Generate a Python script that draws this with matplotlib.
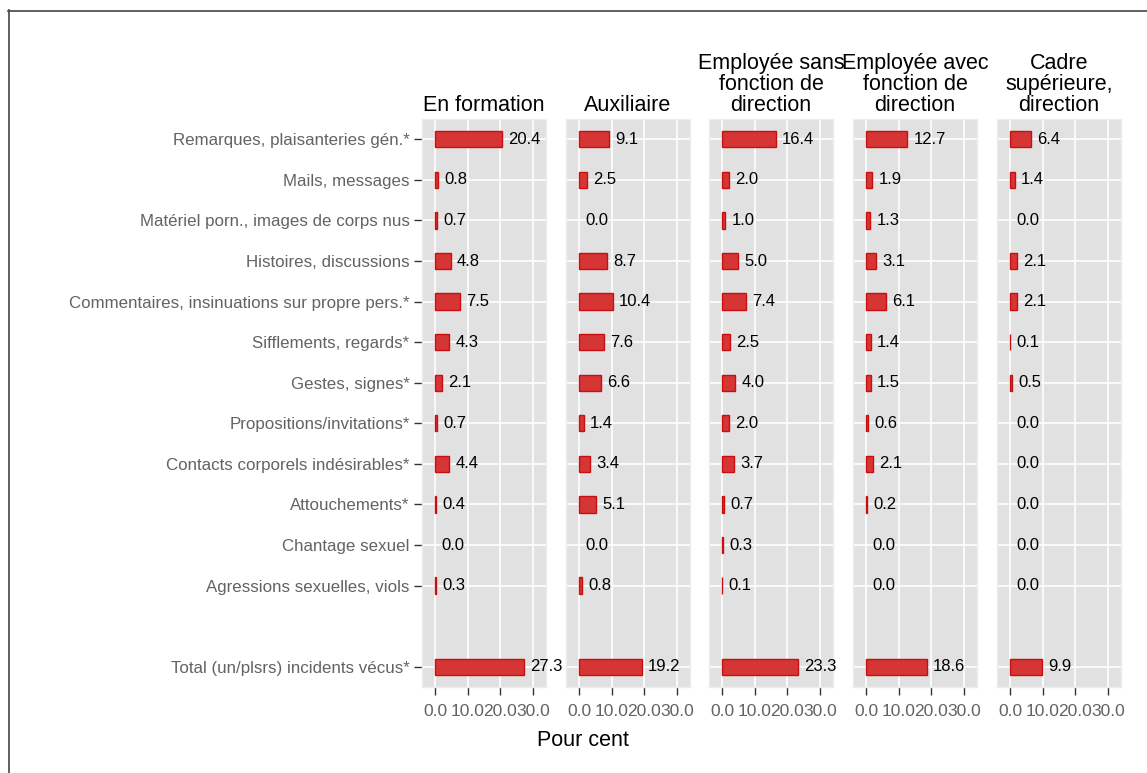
import numpy as np
import matplotlib
matplotlib.use("Agg")
import matplotlib.pyplot as plt
from matplotlib.lines import Line2D

plt.rcParams['font.family'] = ['Liberation Sans', 'DejaVu Sans']

# Data
categories = [
    "Remarques, plaisanteries gén.*",
    "Mails, messages",
    "Matériel porn., images de corps nus",
    "Histoires, discussions",
    "Commentaires, insinuations sur propre pers.*",
    "Sifflements, regards*",
    "Gestes, signes*",
    "Propositions/invitations*",
    "Contacts corporels indésirables*",
    "Attouchements*",
    "Chantage sexuel",
    "Agressions sexuelles, viols",
    "Total (un/plsrs) incidents vécus*",
]
# row positions (gap before the total)
rows = [0, 1, 2, 3, 4, 5, 6, 7, 8, 9, 10, 11, 13]

groups = [
    "En formation",
    "Auxiliaire",
    "Employée sans\nfonction de\ndirection",
    "Employée avec\nfonction de\ndirection",
    "Cadre\nsupérieure,\ndirection",
]
en_formation = [20.4, 0.8, 0.7, 4.8, 7.5, 4.3, 2.1, 0.7, 4.4, 0.4, 0.0, 0.3, 27.3]
auxiliaire = [9.1, 2.5, 0.0, 8.7, 10.4, 7.6, 6.6, 1.4, 3.4, 5.1, 0.0, 0.8, 19.2]
employee_sans = [16.4, 2.0, 1.0, 5.0, 7.4, 2.5, 4.0, 2.0, 3.7, 0.7, 0.3, 0.1, 23.3]
employee_avec = [12.7, 1.9, 1.3, 3.1, 6.1, 1.4, 1.5, 0.6, 2.1, 0.2, 0.0, 0.0, 18.6]
cadre = [6.4, 1.4, 0.0, 2.1, 2.1, 0.1, 0.5, 0.0, 0.0, 0.0, 0.0, 0.0, 9.9]
series = [en_formation, auxiliaire, employee_sans, employee_avec, cadre]

xticks = [0, 10, 20, 30]

W, H = 1147, 773
fig = plt.figure(figsize=(W / 100, H / 100), dpi=100)

# frame around the plot (cut off on right/bottom)
fig.add_artist(Line2D([8.5 / W, 8.5 / W], [0, 1 - 10 / H], color='#444444', lw=1.2))
fig.add_artist(Line2D([8 / W, 1], [1 - 10.5 / H, 1 - 10.5 / H], color='#444444', lw=1.2))

panel_left = [422, 566, 709, 853, 997]
panel_w = 124
top, bottom = 119, 687
grey = '#636363'

for i, (name, vals) in enumerate(zip(groups, series)):
    ax = fig.add_axes([panel_left[i] / W, 1 - bottom / H, panel_w / W, (bottom - top) / H])
    ax.set_facecolor('#E1E1E1')
    lws = [1.0 if v > 0 else 0 for v in vals]
    ax.barh(rows, vals, height=0.4, color='#D63535', edgecolor='#C80E0E', linewidth=lws, zorder=3)
    for r, v in zip(rows, vals):
        ax.annotate(f"{v:.1f}", (v, r), xytext=(4.5, 0), textcoords='offset points',
                    ha='left', va='center', fontsize=12, color='black', zorder=4)
    ax.set_xlim(-4, 34)
    ax.set_ylim(13.5, -0.5)
    ax.set_xticks(xticks)
    ax.set_xticklabels([f"{t:.1f}" for t in xticks], fontsize=12.5, color=grey)
    ax.set_yticks(rows)
    ax.tick_params(axis='both', color='#333333', width=1, length=6, pad=3)
    ax.tick_params(axis='x', pad=6)
    if i == 0:
        ax.set_yticklabels(categories, fontsize=12.2, color=grey)
    else:
        ax.set_yticklabels([])
        ax.tick_params(axis='y', length=0)
    ax.grid(True, color='white', linewidth=1.2, zorder=0)
    ax.set_axisbelow(True)
    for s in ax.spines.values():
        s.set_color('#EDEDED')
        s.set_linewidth(1)
    ax.set_title(name, fontsize=15.5, color='black', pad=6, linespacing=1.0)

fig.text(583 / W, 1 - 741 / H, "Pour cent", fontsize=15.5, ha='center', va='center')

fig.savefig("out.png", dpi=100)
